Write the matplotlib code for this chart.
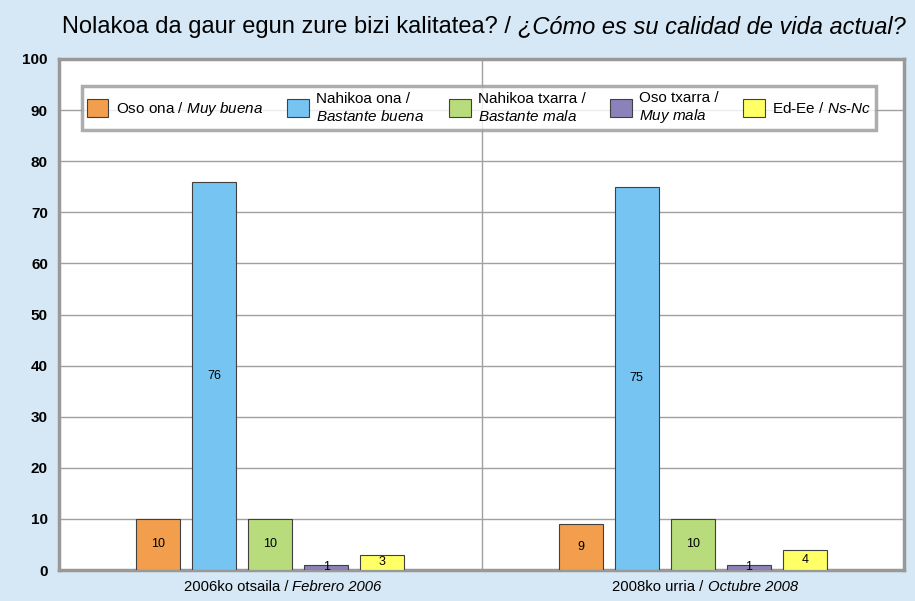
import matplotlib
matplotlib.use("Agg")
import matplotlib.pyplot as plt
import numpy as np
from matplotlib.patches import Patch
from matplotlib.offsetbox import TextArea, HPacker, AnnotationBbox

plt.rcParams["font.family"] = ["Liberation Sans", "DejaVu Sans"]
plt.rcParams["mathtext.fontset"] = "custom"
plt.rcParams["mathtext.rm"] = "Liberation Sans"
plt.rcParams["mathtext.it"] = "Liberation Sans:italic"

# (basque part, spanish part in italics)
periods = [("2006ko otsaila / ", "Febrero 2006"),
           ("2008ko urria / ", "Octubre 2008")]
series = ["Oso ona / $\\it{Muy\\ buena}$",
          "Nahikoa ona /\n$\\it{Bastante\\ buena}$",
          "Nahikoa txarra /\n$\\it{Bastante\\ mala}$",
          "Oso txarra /\n$\\it{Muy\\ mala}$",
          "Ed-Ee / $\\it{Ns}$-$\\it{Nc}$"]
values = [[10, 9], [76, 75], [10, 10], [1, 1], [3, 4]]
colors = ["#F29E4C", "#76C4F2", "#B8DC7C", "#8C82BA", "#FFFF66"]
title = ("Nolakoa da gaur egun zure bizi kalitatea? / ",
         "¿Cómo es su calidad de vida actual?")

BG = "#D6E8F5"
GRAY = "#999999"


def mixed(eu, es, size):
    return HPacker(children=[TextArea(eu, textprops=dict(fontsize=size)),
                             TextArea(es, textprops=dict(fontsize=size, style="italic"))],
                   sep=0, pad=0, align="baseline")


fig = plt.figure(figsize=(9.15, 6.01), dpi=100, facecolor=BG)
ax = fig.add_axes([59 / 915, 31 / 601, 845 / 915, 511 / 601])
ax.set_facecolor("white")

x = np.arange(len(periods))
w = 0.104
step = 0.1325
for i, (name, vals, c) in enumerate(zip(series, values, colors)):
    xs = x + (i - 2) * step
    bars = ax.bar(xs, vals, w, color=c, edgecolor="#404040", linewidth=0.8,
                  label=name, zorder=3)
    for b, v in zip(bars, vals):
        ax.text(b.get_x() + b.get_width() / 2, v / 2, str(v), ha="center",
                va="center", fontsize=9, zorder=4)

ax.set_xlim(-0.5, 1.5)
ax.set_ylim(0, 100)
ax.set_yticks(range(0, 101, 10))
ax.set_yticklabels([str(t) for t in range(0, 101, 10)], fontweight="bold", fontsize=11)
ax.set_xticks(x)
ax.set_xticklabels([])
ax.tick_params(axis="both", length=0)
ax.tick_params(axis="y", pad=8)
ax.yaxis.grid(True, color="#A0A0A0", linewidth=1, zorder=0)
ax.axvline(0.5, color="#A0A0A0", linewidth=1, zorder=0)
for s in ax.spines.values():
    s.set_color(GRAY)
    s.set_linewidth(2.5)

# category labels with italic spanish part
for xi, (eu, es) in zip(x, periods):
    ab = AnnotationBbox(mixed(eu, es, 10.7), (xi, 0), xycoords=("data", "axes fraction"),
                        xybox=(9, -7), boxcoords="offset points",
                        box_alignment=(0.5, 1), frameon=False, pad=0, annotation_clip=False)
    ax.add_artist(ab)

handles = [Patch(facecolor=c, edgecolor="#404040", linewidth=0.8) for c in colors]
leg = ax.legend(handles, series, ncol=5, loc="upper left", borderaxespad=0,
                bbox_to_anchor=(23 / 845, 484 / 511), fontsize=11,
                frameon=True, fancybox=False, handlelength=1.4, handleheight=1.45,
                handletextpad=0.5, borderpad=0.3, labelspacing=0.2, columnspacing=1.6)
leg.get_frame().set_edgecolor(GRAY)
leg.get_frame().set_linewidth(2.5)
leg.set_zorder(5)

tb = AnnotationBbox(mixed(title[0], title[1], 17), (62 / 915, 1 - 15 / 601),
                    xycoords="figure fraction", box_alignment=(0, 1),
                    frameon=False, pad=0, annotation_clip=False)
fig.add_artist(tb)

fig.savefig("out.png", dpi=100, facecolor=BG)
